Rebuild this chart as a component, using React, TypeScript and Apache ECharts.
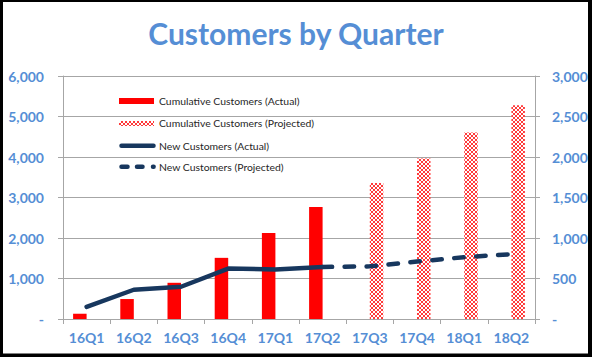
import React, { useEffect, useRef } from "react";
import * as echarts from "echarts";

const quarters = ["16Q1", "16Q2", "16Q3", "16Q4", "17Q1", "17Q2", "17Q3", "17Q4", "18Q1", "18Q2"];
const cumulativeActual = [130, 493, 894, 1510, 2126, 2766, null, null, null, null];
const cumulativeProjected = [null, null, null, null, null, null, 3357, 3966, 4606, 5278];
const newActual = [150, 361, 398, 623, 611, 642, null, null, null, null];
const newProjected = [null, null, null, null, null, 642, 650, 709, 763, 800];
const leftAxisMax = 6000;
const leftAxisStep = 1000;
const rightAxisMax = 3000;
const rightAxisStep = 500;
const legendNames = [
  "Cumulative Customers (Actual)",
  "Cumulative Customers (Projected)",
  "New Customers (Actual)",
  "New Customers (Projected)",
];

const BLUE_LABEL = "#558ED5";
const NAVY = "#17375E";
const RED = "#FF0000";
const GRID = "#A6A6A6";
const FONT = "Lato";

function makePattern(): HTMLCanvasElement {
  const c = document.createElement("canvas");
  c.width = 4;
  c.height = 4;
  const ctx = c.getContext("2d")!;
  ctx.fillStyle = "#ffffff";
  ctx.fillRect(0, 0, 4, 4);
  ctx.fillStyle = "#FF3A3A";
  for (let x = 0; x < 4; x++) {
    for (let y = 0; y < 4; y++) {
      if (x === y || x + y === 3) ctx.fillRect(x, y, 1, 1);
    }
  }
  return c;
}

function fmt(v: number): string {
  if (v === 0) return "-";
  return v.toLocaleString("en-US");
}

export default function App() {
  const ref = useRef<HTMLDivElement>(null);

  useEffect(() => {
    if (!ref.current) return;
    const chart = echarts.init(ref.current, null, { renderer: "svg" });
    const pattern = { image: makePattern(), repeat: "repeat" as const };

    const legendY = [100.7, 123.3, 145.7, 166.7];
    const textX = 159;
    const legendGraphics: any[] = [
      { type: "rect", shape: { x: 119, y: 98, width: 35, height: 6 }, style: { fill: RED } },
      { type: "rect", shape: { x: 119, y: 121, width: 35, height: 5 }, style: { fill: pattern } },
      {
        type: "line",
        shape: { x1: 121.5, y1: legendY[2], x2: 153.5, y2: legendY[2] },
        style: { stroke: NAVY, lineWidth: 4.5, lineCap: "round" },
      },
      {
        type: "line",
        shape: { x1: 121.5, y1: legendY[3], x2: 127.5, y2: legendY[3] },
        style: { stroke: NAVY, lineWidth: 4.5, lineCap: "round" },
      },
      {
        type: "line",
        shape: { x1: 137, y1: legendY[3], x2: 142.5, y2: legendY[3] },
        style: { stroke: NAVY, lineWidth: 4.5, lineCap: "round" },
      },
      {
        type: "line",
        shape: { x1: 153, y1: legendY[3], x2: 153.6, y2: legendY[3] },
        style: { stroke: NAVY, lineWidth: 4.5, lineCap: "round" },
      },
      ...legendNames.map((name, i) => ({
        type: "text",
        x: textX,
        y: legendY[i],
        style: {
          text: name,
          fontSize: 10.4,
          fontFamily: FONT,
          fill: "#262626",
          verticalAlign: "middle",
          align: "left",
        },
      })),
    ];

    chart.setOption({
      animation: false,
      textStyle: { fontFamily: FONT },
      title: {
        text: "Customers by Quarter",
        left: "center",
        top: 13,
        textStyle: { fontFamily: FONT, fontSize: 30, fontWeight: "bold", color: BLUE_LABEL },
      },
      grid: { left: 63, right: 57, top: 76, bottom: 38, containLabel: false },
      xAxis: {
        type: "category",
        data: quarters,
        boundaryGap: true,
        axisLine: { show: true, lineStyle: { color: GRID, width: 1 } },
        axisTick: { show: true, length: 5, alignWithLabel: false, lineStyle: { color: GRID } },
        axisLabel: {
          color: BLUE_LABEL,
          fontSize: 14,
          fontWeight: "bold",
          fontFamily: FONT,
          margin: 11,
        },
      },
      yAxis: [
        {
          type: "value",
          min: 0,
          max: leftAxisMax,
          interval: leftAxisStep,
          position: "left",
          axisLine: { show: true, lineStyle: { color: GRID, width: 1 } },
          axisTick: { show: true, length: 5, lineStyle: { color: GRID } },
          splitLine: { show: true, lineStyle: { color: GRID, width: 1 } },
          axisLabel: {
            color: BLUE_LABEL,
            fontSize: 14,
            fontWeight: "bold",
            fontFamily: FONT,
            margin: 19,
            formatter: (v: number) => fmt(v),
          },
        },
        {
          type: "value",
          min: 0,
          max: rightAxisMax,
          interval: rightAxisStep,
          position: "right",
          axisLine: { show: true, lineStyle: { color: GRID, width: 1 } },
          axisTick: { show: true, length: 5, lineStyle: { color: GRID } },
          splitLine: { show: false },
          axisLabel: {
            color: BLUE_LABEL,
            fontSize: 14,
            fontWeight: "bold",
            fontFamily: FONT,
            margin: 17,
            formatter: (v: number) => fmt(v),
          },
        },
      ],
      graphic: legendGraphics,
      series: [
        {
          name: legendNames[0],
          type: "bar",
          data: cumulativeActual,
          barWidth: 13.5,
          barGap: "0%",
          itemStyle: { color: RED },
        },
        {
          name: legendNames[1],
          type: "bar",
          data: cumulativeProjected,
          barWidth: 13.5,
          barGap: "0%",
          itemStyle: { color: pattern },
        },
        {
          name: legendNames[2],
          type: "line",
          yAxisIndex: 1,
          data: newActual,
          symbol: "none",
          lineStyle: { color: NAVY, width: 4.5, cap: "round", join: "round" },
        },
        {
          name: legendNames[3],
          type: "line",
          yAxisIndex: 1,
          data: newProjected,
          symbol: "none",
          lineStyle: { color: NAVY, width: 4.5, type: [9.5, 12.5], cap: "round", join: "round" },
        },
      ],
    });

    return () => chart.dispose();
  }, []);

  return (
    <div
      style={{
        position: "fixed",
        left: 0,
        top: 0,
        width: 592,
        height: 357,
        background: "#000",
        overflow: "hidden",
      }}
    >
      <div
        style={{
          position: "absolute",
          left: 3,
          top: 2,
          width: 585,
          height: 352,
          background: "#fff",
          borderBottom: "1px solid #808080",
          boxSizing: "border-box",
        }}
      />
      <div ref={ref} style={{ position: "absolute", left: 0, top: 0, width: 592, height: 357 }} />
    </div>
  );
}
